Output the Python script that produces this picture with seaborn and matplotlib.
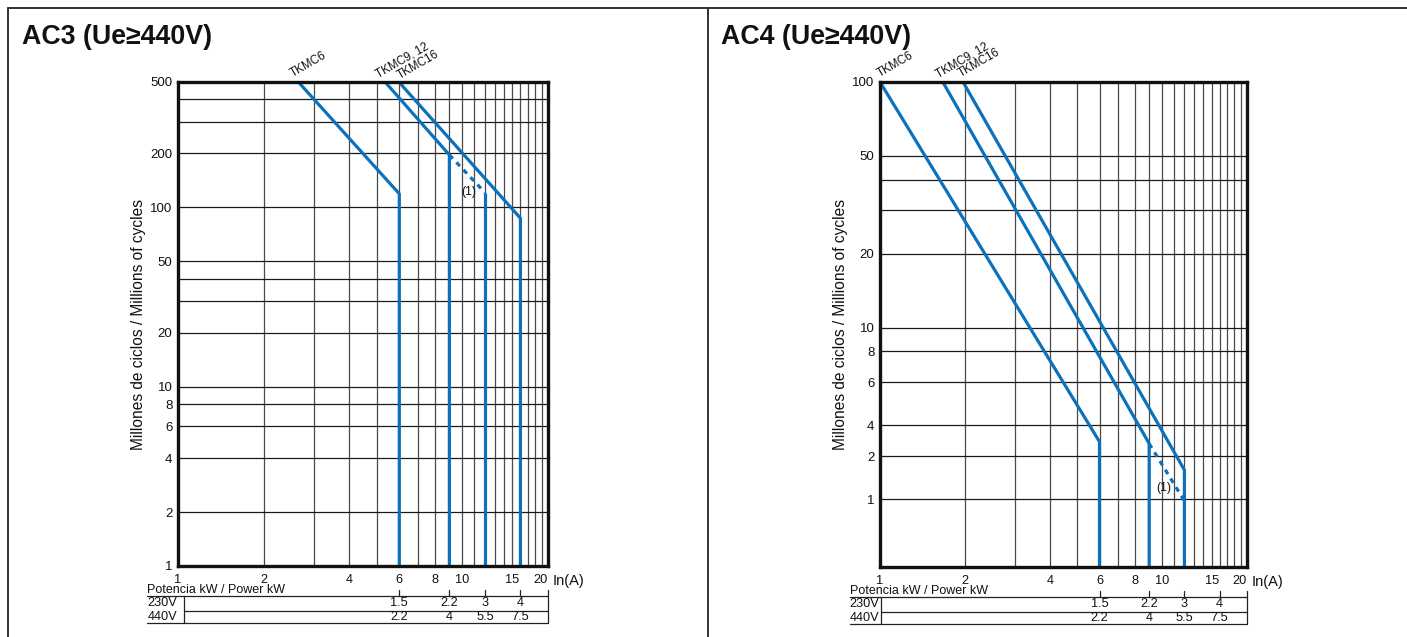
import numpy as np
import pandas as pd
import matplotlib.pyplot as plt
from matplotlib.lines import Line2D
from matplotlib.ticker import NullFormatter
import seaborn as sns

# ---- data ----
# x: rated current In (A), y: millions of operating cycles
x_ticks = [1, 2, 4, 6, 8, 10, 15, 20]
x_grid = list(range(2, 20))

# AC3 panel
ac3_yticks = [1, 2, 4, 6, 8, 10, 20, 50, 100, 200, 500]
ac3_ylabels = ['1', '2', '4', '6', '8', '10', '20', '50', '100', '200', '500']
ac3_ygrid = [2, 4, 6, 8, 10, 20, 30, 40, 50, 100, 200, 300, 400]
ac3_names = ['TKMC6', 'TKMC9, 12', 'TKMC16']
ac3_in = [[2.65, 6, 6], [5.35, 9, 9], [5.98, 16, 16]]
ac3_cycles = [[500, 119, 1], [500, 196, 1], [500, 87, 1]]
ac3_dash_in = [9, 12]
ac3_dash_cycles = [196, 121]
ac3_c12_in = [12, 12]
ac3_c12_cycles = [119, 1]

# AC4 panel (axis labels as printed on the original)
ac4_yticks = [2, 3, 4, 6, 8, 10, 20, 50, 100]
ac4_ylabels = ['1', '2', '4', '6', '8', '10', '20', '50', '100']
ac4_ygrid = [2, 3, 4, 6, 8, 10, 20, 30, 40, 50]
ac4_names = ['TKMC6', 'TKMC9, 12', 'TKMC16']
ac4_in = [[1.0, 6, 6], [1.67, 9, 9], [1.97, 12, 12]]
ac4_cycles = [[100, 3.43, 1.06], [100, 3.37, 1.06], [100, 2.63, 1.06]]
ac4_dash_in = [9, 12]
ac4_dash_cycles = [3.37, 1.97]

# power table
power_in = [6, 9, 12, 16]
power_230 = ['1.5', '2.2', '3', '4']
power_440 = ['2.2', '4', '5.5', '7.5']

BLUE = '#0a72bd'
INK = '#111'

sns.set_theme(style='white')
plt.rcParams['font.family'] = ['Liberation Sans', 'DejaVu Sans']

fig = plt.figure(figsize=(14.07, 6.37), dpi=100)
W, H = 1407, 637


def panel(rect, title, title_x, ylim, yticks, ylabels, ygrid, names, xs, ys,
          dash_x, dash_y, extra, label_offsets, note_offset, one_x, ylab_x):
    l, t, r, b = rect
    ax = fig.add_axes([l / W, 1 - b / H, (r - l) / W, (b - t) / H])
    ax.set_xscale('log')
    ax.set_yscale('log')
    ax.set_xlim(1, 20)
    ax.set_ylim(*ylim)

    ax.set_xticks(x_ticks, [str(v) for v in x_ticks])
    ax.set_xticks(x_grid, minor=True)
    ax.set_yticks(yticks, ylabels)
    ax.set_yticks(ygrid, minor=True)
    ax.xaxis.set_minor_formatter(NullFormatter())
    ax.yaxis.set_minor_formatter(NullFormatter())
    ax.tick_params(which='both', length=0)
    ax.tick_params(axis='x', labelsize=9.2, pad=6, colors=INK)
    ax.tick_params(axis='y', labelsize=9.5, pad=4, colors=INK)
    ax.xaxis.get_majorticklabels()[-1].set_horizontalalignment('right')
    ax.grid(True, which='both', axis='y', color='#1a1a1a', lw=0.9)
    ax.grid(True, which='both', axis='x', color='#4a4a4a', lw=0.9)
    ax.set_axisbelow(True)
    for s in ax.spines.values():
        s.set_linewidth(2.4)
        s.set_color(INK)

    for name, x, y, off in zip(names, xs, ys, label_offsets):
        sns.lineplot(x=x, y=y, sort=False, estimator=None, ax=ax,
                     color=BLUE, lw=2.3)
        ax.annotate(name, xy=(x[0], ylim[1]), xytext=off,
                    textcoords='offset points', rotation=30,
                    rotation_mode='anchor', ha='left', va='bottom',
                    fontsize=8.4, color=INK, annotation_clip=False)
    sns.lineplot(x=dash_x, y=dash_y, sort=False, estimator=None, ax=ax,
                 color=BLUE, lw=2.3, linestyle=(0, (1.6, 1.6)))
    if extra is not None:
        sns.lineplot(x=extra[0], y=extra[1], sort=False, estimator=None,
                     ax=ax, color=BLUE, lw=2.3)
    # "(1)" note beside the dashed segment
    ax.annotate('(1)', xy=(dash_x[1], dash_y[1]), xytext=note_offset,
                textcoords='offset points', fontsize=8.8, ha='center',
                va='center', color=INK)

    ax.set_ylabel('Millones de ciclos / Millions of cycles', fontsize=11.2,
                  color=INK)
    ax.yaxis.set_label_coords(ylab_x, 0.5)
    ax.text(1.012, -0.03, 'In(A)', transform=ax.transAxes, fontsize=10.5,
            va='center', ha='left', color=INK)

    # power table under the axis
    tr = ax.get_xaxis_transform()
    x_left = 0.78
    kw = dict(transform=tr, clip_on=False, color='#222', lw=0.9)
    y_top, y_mid, y_bot, y_tick = -0.062, -0.093, -0.118, -0.049
    ax.plot([x_left, 20], [y_top, y_top], **kw)
    ax.plot([one_x, 20], [y_mid, y_mid], **kw)
    ax.plot([x_left, 20], [y_bot, y_bot], **kw)
    ax.plot([one_x, one_x], [y_top, y_bot], **kw)
    ax.plot([20, 20], [y_tick, y_bot], **kw)
    for xi in power_in:
        ax.plot([xi, xi], [y_tick, y_top], **kw)
    ax.text(x_left, -0.056, 'Potencia kW / Power kW', transform=tr,
            fontsize=9, va='baseline', ha='left', color=INK)
    ax.text(x_left, -0.077, '230V', transform=tr, fontsize=9.2, va='center',
            ha='left', color=INK)
    ax.text(x_left, -0.105, '440V', transform=tr, fontsize=9.2, va='center',
            ha='left', color=INK)
    for xi, a, c in zip(power_in, power_230, power_440):
        ax.text(xi, -0.077, a, transform=tr, fontsize=9.2, va='center',
                ha='center', color=INK)
        ax.text(xi, -0.105, c, transform=tr, fontsize=9.2, va='center',
                ha='center', color=INK)

    fig.text(title_x / W, 1 - 44 / H, title, fontsize=19.3, fontweight='bold',
             va='baseline', ha='left', color=INK)
    return ax


panel((178, 82, 548, 566), 'AC3 (Ue≥440V)', 22, (1, 500),
      ac3_yticks, ac3_ylabels, ac3_ygrid, ac3_names, ac3_in, ac3_cycles,
      ac3_dash_in, ac3_dash_cycles, (ac3_c12_in, ac3_c12_cycles),
      [(-3, 1.5), (-4, 1.5), (1.5, 0.5)], (-11.5, 0), 1.05, -0.086)
panel((880, 82, 1247, 567), 'AC4 (Ue≥440V)', 721, (1.06, 100),
      ac4_yticks, ac4_ylabels, ac4_ygrid, ac4_names, ac4_in, ac4_cycles,
      ac4_dash_in, ac4_dash_cycles, None,
      [(1, 1.5), (-2, 1.5), (-0.5, 1.5)], (-15, 9), 1.01, -0.087)

# outer frame of the catalogue page
frame = dict(transform=fig.transFigure, color='#333', lw=1.4)
fig.add_artist(Line2D([8 / W, 1], [1 - 8 / H, 1 - 8 / H], **frame))
fig.add_artist(Line2D([8 / W, 8 / W], [0, 1 - 8 / H], **frame))
fig.add_artist(Line2D([708 / W, 708 / W], [0, 1 - 8 / H], **frame))

fig.savefig('out.png', dpi=100)
